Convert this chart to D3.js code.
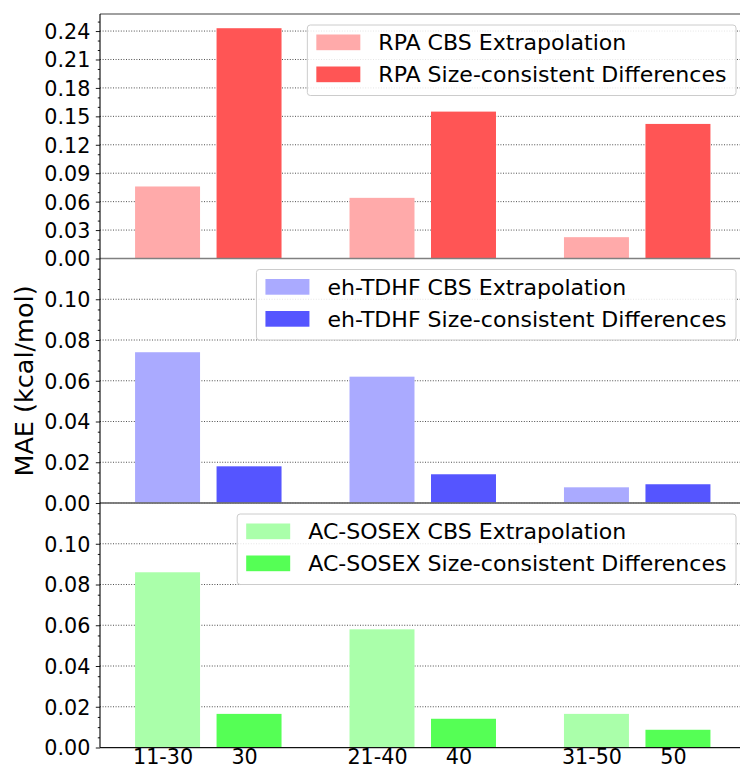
<!DOCTYPE html>
<html>
<head>
<meta charset="utf-8">
<script src="https://cdn.jsdelivr.net/npm/d3@7"></script>
<style>
  body { margin: 0; background: #fff; }
  svg { display: block; font-family: "DejaVu Sans", sans-serif; }
</style>
</head>
<body>
<svg id="chart" width="740" height="769"></svg>
<script>
// Category labels: CBS extrapolation range and the size used for differences
const cbsLabels = ["11-30", "21-40", "31-50"];
const sizeLabels = ["30", "40", "50"];

// MAE values (kcal/mol)
const rpaCBS = [0.076, 0.064, 0.0225];
const rpaSize = [0.243, 0.155, 0.142];
const ehCBS = [0.074, 0.062, 0.0077];
const ehSize = [0.018, 0.0141, 0.0092];
const acCBS = [0.086, 0.058, 0.0165];
const acSize = [0.0165, 0.0141, 0.0087];

// Legend entries and colours per method
const rpaNames = ["RPA CBS Extrapolation", "RPA Size-consistent Differences"];
const ehNames = ["eh-TDHF CBS Extrapolation", "eh-TDHF Size-consistent Differences"];
const acNames = ["AC-SOSEX CBS Extrapolation", "AC-SOSEX Size-consistent Differences"];
const rpaColors = ["#ffaaaa", "#ff5555"];
const ehColors = ["#aaaaff", "#5555ff"];
const acColors = ["#aaffaa", "#55ff55"];

// Y tick values
const rpaTicks = [0, 0.03, 0.06, 0.09, 0.12, 0.15, 0.18, 0.21, 0.24];
const smallTicks = [0, 0.02, 0.04, 0.06, 0.08, 0.10];

const panels = [
  { cbs: rpaCBS, size: rpaSize, names: rpaNames, colors: rpaColors, yMax: 0.258, ticks: rpaTicks, minorStep: 0.01 },
  { cbs: ehCBS, size: ehSize, names: ehNames, colors: ehColors, yMax: 0.12, ticks: smallTicks, minorStep: 0.005 },
  { cbs: acCBS, size: acSize, names: acNames, colors: acColors, yMax: 0.12, ticks: smallTicks, minorStep: 0.005 }
];

const svg = d3.select("#chart");
const W = 740;
const plotLeft = 100, plotRight = 747, plotTop = 14, panelH = 244.5;
const tickFont = 20.7, legendFont = 22.05;

const x = d3.scaleLinear().domain([-0.505, 2.512]).range([plotLeft, plotRight]);
const barOffset = 0.19, barWidth = 0.303;
const groups = d3.range(cbsLabels.length);

panels.forEach((p, pi) => {
  const y0 = plotTop + pi * panelH;
  const y = d3.scaleLinear().domain([0, p.yMax]).range([y0 + panelH, y0]);
  const g = svg.append("g");

  // dotted grid at major ticks
  g.selectAll("line.grid").data(p.ticks).join("line")
    .attr("x1", plotLeft).attr("x2", W)
    .attr("y1", d => y(d)).attr("y2", d => y(d))
    .attr("stroke", "#222").attr("stroke-width", 0.8)
    .attr("stroke-dasharray", "1,1.6");

  // bars
  const bars = [
    { vals: p.cbs, off: -barOffset, color: p.colors[0] },
    { vals: p.size, off: barOffset, color: p.colors[1] }
  ];
  bars.forEach(b => {
    g.selectAll(null).data(groups).join("rect")
      .attr("x", i => x(i + b.off - barWidth / 2))
      .attr("width", i => x(i + b.off + barWidth / 2) - x(i + b.off - barWidth / 2))
      .attr("y", i => y(b.vals[i]))
      .attr("height", i => y(0) - y(b.vals[i]))
      .attr("fill", b.color);
  });

  // top spine
  g.append("line").attr("x1", plotLeft).attr("x2", W)
    .attr("y1", y0).attr("y2", y0)
    .attr("stroke", "#808080").attr("stroke-width", 1.4);

  // zero line
  g.append("line").attr("x1", plotLeft).attr("x2", W)
    .attr("y1", y(0)).attr("y2", y(0))
    .attr("stroke", "#111").attr("stroke-width", 1.1);

  // y axis with major and minor ticks
  const minor = d3.range(0, p.yMax, p.minorStep).filter(v => !p.ticks.some(t => Math.abs(t - v) < 1e-9));
  const axMinor = d3.axisLeft(y).tickValues(minor).tickSize(2.2).tickFormat("");
  const axMajor = d3.axisLeft(y).tickValues(p.ticks).tickSize(4.2).tickPadding(5.5).tickFormat(d3.format(".2f"));
  const gm = svg.append("g").attr("transform", `translate(${plotLeft},0)`).call(axMinor);
  const gM = svg.append("g").attr("transform", `translate(${plotLeft},0)`).call(axMajor);
  [gm, gM].forEach(a => {
    a.select(".domain").remove();
    a.selectAll(".tick line").attr("stroke", "#000").attr("stroke-width", 0.9);
  });
  gM.selectAll(".tick text")
    .attr("font-size", tickFont).attr("fill", "#000")
    .attr("font-family", "DejaVu Sans").attr("dy", "0.36em");

  // legend (upper right)
  const lg = svg.append("g");
  const box = lg.append("rect").attr("rx", 3).attr("ry", 3)
    .attr("fill", "rgba(255,255,255,0.85)").attr("stroke", "#cccccc").attr("stroke-width", 1);
  const texts = p.names.map(n => lg.append("text").text(n)
    .attr("font-size", legendFont).attr("fill", "#000"));
  const tw = d3.max(texts, t => t.node().getComputedTextLength());
  const boxW = 9 + 44 + 18 + tw + 9.5;
  const boxR = 736, boxT = y0 + 11;
  const boxL = boxR - boxW;
  box.attr("x", boxL).attr("y", boxT).attr("width", boxW).attr("height", 70.5);
  p.names.forEach((n, k) => {
    const py = boxT + 9.5 + k * 32;
    lg.append("rect").attr("x", boxL + 9).attr("y", py).attr("width", 44).attr("height", 15.7)
      .attr("fill", p.colors[k]);
    texts[k].attr("x", boxL + 9 + 44 + 18).attr("y", py + 7.85 + 0.365 * legendFont);
  });
});

// left spine
svg.append("line").attr("x1", plotLeft).attr("x2", plotLeft)
  .attr("y1", plotTop).attr("y2", plotTop + 3 * panelH)
  .attr("stroke", "#000").attr("stroke-width", 1.1);

// bottom spine
svg.append("line").attr("x1", plotLeft).attr("x2", W)
  .attr("y1", plotTop + 3 * panelH + 1).attr("y2", plotTop + 3 * panelH + 1)
  .attr("stroke", "#c8c8c8").attr("stroke-width", 1);

// x tick labels under each bar
const xLabels = svg.append("g");
groups.forEach(i => {
  [[cbsLabels[i], -barOffset], [sizeLabels[i], barOffset]].forEach(([lab, off]) => {
    xLabels.append("text").text(lab)
      .attr("x", x(i + off) - 4.5).attr("y", 764)
      .attr("text-anchor", "middle").attr("font-size", tickFont).attr("fill", "#000");
  });
});

// y axis title
svg.append("text").text("MAE (kcal/mol)")
  .attr("transform", `translate(33,381) rotate(-90)`)
  .attr("text-anchor", "middle").attr("font-size", 25.5).attr("fill", "#000");
</script>
</body>
</html>
